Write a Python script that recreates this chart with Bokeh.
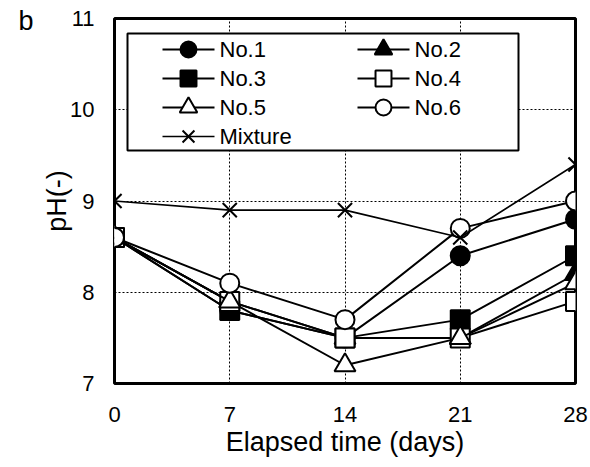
from bokeh.plotting import figure
from bokeh.models import BoxAnnotation, Range1d, FixedTicker, LinearAxis
from bokeh.core.properties import value
from bokeh.embed import file_html
from bokeh.resources import INLINE

# ---- data ----
days = [0, 7, 14, 21, 28]
no1 = [8.6, 7.8, 7.5, 8.4, 8.8]
no2 = [8.6, 7.9, 7.5, 7.5, 8.2]
no3 = [8.6, 7.8, 7.5, 7.7, 8.4]
no4 = [8.6, 7.9, 7.5, 7.5, 7.9]
no5 = [8.6, 7.9, 7.2, 7.5, 8.1]
no6 = [8.6, 8.1, 7.7, 8.7, 9.0]
mixture = [9.0, 8.9, 8.9, 8.6, 9.4]
series_names = ["No.1", "No.2", "No.3", "No.4", "No.5", "No.6", "Mixture"]
x_ticks = [0, 7, 14, 21, 28]
y_ticks = [7, 8, 9, 10, 11]
panel_letter = "b"

FONT = "Liberation Sans"
W, H = 590, 467
FL, FR, FT, FB = 114, 575, 18, 383  # frame edges in pixels
X0, X1, Y0, Y1 = 0, 28, 7, 11


def dx(px):
    return X0 + (px - FL) / (FR - FL) * (X1 - X0)


def dy(py):
    return Y1 - (py - FT) / (FB - FT) * (Y1 - Y0)


series = [no1, no2, no3, no4, no5, no6, mixture]
styles = [
    ("circle", "black", 19, 2),
    ("triangle", "black", 21, 2),
    ("square", "black", 19, 2),
    ("square", "white", 19, 2),
    ("triangle", "white", 21, 2),
    ("circle", "white", 19, 2),
    ("x", None, 20, 1.6),
]

p = figure(width=W, height=H, output_backend="svg", toolbar_location=None,
           x_range=Range1d(X0, X1), y_range=Range1d(Y0, Y1),
           min_border_left=FL, min_border_right=W - FR, min_border_top=FT,
           min_border_bottom=H - FB)
p.background_fill_color = "white"
p.border_fill_color = "white"
p.outline_line_color = "black"
p.outline_line_width = 3

for ax in (p.xaxis, p.yaxis):
    ax.axis_line_color = None
    ax.major_tick_line_color = None
    ax.minor_tick_line_color = None
    ax.major_tick_out = 0
    ax.major_tick_in = 0
    ax.minor_tick_out = 0
    ax.minor_tick_in = 0
    ax.major_label_text_font = FONT
    ax.major_label_text_font_size = "22px"
    ax.major_label_text_color = "black"
    ax.axis_label_text_font = FONT
    ax.axis_label_text_font_size = "27px"
    ax.axis_label_text_font_style = "normal"
    ax.axis_label_text_color = "black"
p.xaxis.ticker = FixedTicker(ticks=x_ticks)
p.yaxis.ticker = FixedTicker(ticks=y_ticks)
p.xaxis.major_label_standoff = 23
p.yaxis.major_label_standoff = 20
p.xaxis.axis_label = "Elapsed time (days)"
p.xaxis.axis_label_standoff = 2
p.yaxis.axis_label = "pH(-)"
p.yaxis.axis_label_standoff = -5

# panel letter, placed as the only label of an extra outer axis
letter_axis = LinearAxis(ticker=FixedTicker(ticks=[10.97]),
                         major_label_overrides={10.97: panel_letter},
                         axis_line_color=None, major_tick_line_color=None,
                         minor_tick_line_color=None, major_tick_out=0,
                         major_tick_in=0, minor_tick_out=0, minor_tick_in=0,
                         major_label_standoff=6,
                         major_label_text_font=FONT, major_label_text_font_size="27px",
                         major_label_text_color="black")
p.add_layout(letter_axis, "left")

p.xgrid.ticker = FixedTicker(ticks=x_ticks)
p.ygrid.ticker = FixedTicker(ticks=y_ticks)
for g in (p.xgrid, p.ygrid):
    g.grid_line_color = "black"
    g.grid_line_dash = "2 2"
    g.grid_line_width = 1

# ---- legend box (drawn under the series, over the grid) ----
box = BoxAnnotation(left=dx(127), right=dx(518), top=dy(33), bottom=dy(150),
                    fill_color="white", fill_alpha=1.0, line_color="black",
                    line_alpha=1.0, line_width=2, level="underlay")
p.add_layout(box)

# ---- series ----
for name, vals, (mk, fill, sz, lw) in zip(series_names, series, styles):
    p.line(days, vals, line_color="black", line_width=lw)
    if mk == "x":
        p.scatter(days, vals, marker="x", size=sz, line_color="black", line_width=2)
    else:
        p.scatter(days, vals, marker=mk, size=sz, fill_color=fill,
                  line_color="black", line_width=2)

# ---- legend entries (drawn by hand to match the original layout) ----
col_px = [162, 357]
row_px = [49, 78, 107, 136]
for i, (name, (mk, fill, sz, lw)) in enumerate(zip(series_names, styles)):
    gx = col_px[i % 2]
    gy = row_px[i // 2]
    p.line([dx(gx), dx(gx + 52)], [dy(gy), dy(gy)], line_color="black", line_width=lw)
    msz = sz * 0.84
    if mk == "x":
        p.scatter([dx(gx + 26)], [dy(gy)], marker="x", size=msz,
                  line_color="black", line_width=2)
    else:
        p.scatter([dx(gx + 26)], [dy(gy)], marker=mk, size=msz,
                  fill_color=fill, line_color="black", line_width=2)
    p.text([dx(gx + 57)], [dy(gy)], text=[name], text_font=value(FONT),
           text_font_size="22px", text_align="left", text_baseline="middle",
           text_color="black")

open("out.html", "w").write(file_html(p, INLINE))
